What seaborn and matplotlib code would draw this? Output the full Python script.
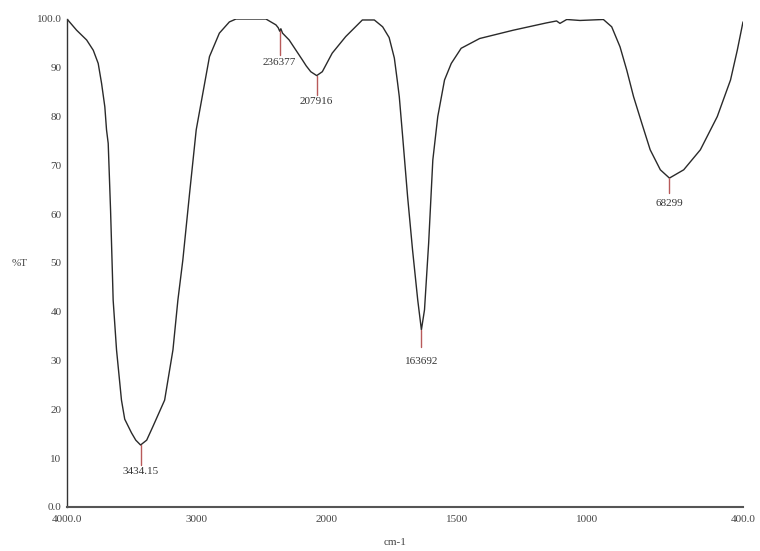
import numpy as np
import pandas as pd
import matplotlib
matplotlib.use("Agg")
import matplotlib.pyplot as plt
import seaborn as sns

# Spectrum (wavenumber cm-1, %T)
wavenumber = [4000, 3926, 3849, 3798, 3760, 3734, 3709, 3696, 3683, 3665, 3650, 3645,
              3619, 3581, 3556, 3504, 3471, 3434.15, 3387, 3339, 3249, 3185, 3147,
              3109, 3057, 3006, 2955, 2904, 2828, 2751, 2700, 2600, 2470, 2393, 2375,
              2363.77, 2355, 2342, 2291, 2189, 2160, 2125, 2079.16, 2036, 1980, 1928,
              1864, 1818, 1786, 1761, 1741, 1729, 1722, 1709, 1690, 1671, 1651,
              1636.92, 1625, 1609, 1593, 1574, 1548, 1522, 1484, 1413, 1284, 1156,
              1117, 1104, 1078, 1027, 937, 905, 873, 847, 821, 789, 757, 718, 682.99,
              628, 564, 499, 448, 422, 400]
transmittance = [100.0, 97.7, 95.7, 93.6, 90.9, 86.8, 82.0, 77.3, 74.5, 60.9, 47.2, 42.4,
                 32.2, 21.9, 18.0, 15.2, 13.7, 12.7, 13.7, 16.5, 21.9, 32.2, 42.4,
                 50.6, 64.3, 77.3, 84.8, 92.3, 97.1, 99.4, 100.0, 100.0, 100.0, 98.8, 98.2,
                 97.5, 98.0, 97.1, 95.7, 91.6, 90.4, 89.2, 88.4, 89.2, 93.0, 96.4,
                 99.8, 99.8, 98.4, 96.2, 92.0, 87.1, 84.1, 75.9, 63.6, 52.7, 42.4,
                 36.3, 40.4, 54.1, 71.1, 80.0, 87.5, 90.9, 94.0, 96.0, 97.7, 99.2,
                 99.6, 99.1, 99.9, 99.7, 99.9, 98.4, 94.3, 89.5, 84.1, 78.6, 73.2, 69.1, 67.4,
                 69.1, 73.2, 80.0, 87.5, 93.6, 99.4]

peak_wn = [3434.15, 2363.77, 2079.16, 1636.92, 682.99]
peak_T = [12.7, 97.5, 88.4, 36.3, 67.4]
peak_labels = ["3434.15", "236377", "207916", "163692", "68299"]
peak_line_end = [8.6, 92.6, 84.4, 32.8, 64.3]
peak_label_y = [7.3, 91.0, 83.1, 29.9, 62.1]

x_ticks = [4000, 3000, 2000, 1500, 1000, 500, 400]
x_tick_labels = ["4000.0", "3000", "2000", "1500", "1000", "", "400.0"]
y_ticks = [0, 10, 20, 30, 40, 50, 60, 70, 80, 90, 100]
y_tick_labels = ["0.0", "10", "20", "30", "40", "50", "60", "70", "80", "90", "100.0"]

df = pd.DataFrame({"wn": wavenumber, "T": transmittance})

sns.set_style("white")
plt.rcParams["font.family"] = ["Liberation Serif", "DejaVu Serif"]

fig = plt.figure(figsize=(7.6, 5.51), dpi=100)
ax = fig.add_axes([67 / 760, 1 - 507 / 551, (743 - 67) / 760, (507 - 19) / 551])


def fwd(x):
    x = np.asarray(x, dtype=float)
    return np.where(x >= 2000, x, 2000 - (2000 - x) * 2.0)


def inv(y):
    y = np.asarray(y, dtype=float)
    return np.where(y >= 2000, y, 2000 - (2000 - y) / 2.0)


ax.set_xscale("function", functions=(fwd, inv))

sns.lineplot(data=df, x="wn", y="T", sort=False, color="#2a2a2a", linewidth=1.0,
             ax=ax, estimator=None)

mark_color = "#b85a5a"
for w, t, e, ly, lab in zip(peak_wn, peak_T, peak_line_end, peak_label_y, peak_labels):
    ax.plot([w, w], [t, e], color=mark_color, linewidth=1.0)
    ax.text(w, ly, lab, ha="center", va="center", fontsize=8, color="#333333")

ax.set_xlim(4000, 400)
ax.set_ylim(0, 100)
ax.set_xticks(x_ticks)
ax.set_xticklabels(x_tick_labels)
ax.set_yticks(y_ticks)
ax.set_yticklabels(y_tick_labels)
ax.minorticks_off()
ax.tick_params(axis="x", direction="in", length=4, width=0.8, colors="#555555",
               labelsize=8, labelcolor="#444444", pad=6)
ax.tick_params(axis="y", direction="out", length=2, width=0.8, colors="#555555",
               labelsize=8, labelcolor="#444444", pad=2)

for s in ["top", "right"]:
    ax.spines[s].set_visible(False)
ax.spines["left"].set_color("#333333")
ax.spines["left"].set_linewidth(1.0)
ax.spines["bottom"].set_color("#555555")
ax.spines["bottom"].set_linewidth(1.5)

ax.set_xlabel("cm-1", fontsize=8, color="#444444")
ax.xaxis.set_label_coords((395 - 67) / 676, -(538 - 507) / 488)
ax.set_ylabel("%T", fontsize=8, color="#444444", rotation=0)
ax.yaxis.set_label_coords(-(67 - 20) / 676, (507 - 268) / 488)

fig.savefig("out.png", dpi=100)
